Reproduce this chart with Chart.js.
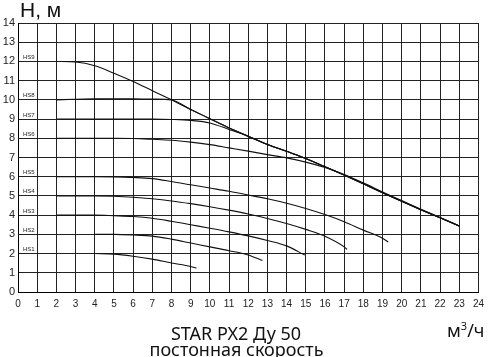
<!DOCTYPE html>
<html>
<head>
<meta charset="utf-8">
<script src="https://cdn.jsdelivr.net/npm/chart.js@4.4.1/dist/chart.umd.min.js"></script>
<style>
  html, body { margin: 0; padding: 0; background: #fff; }
  #wrap { position: relative; width: 490px; height: 357px; overflow: hidden; background: #fff; }
  canvas { position: absolute; left: 0; top: 0; }
  .t { position: absolute; white-space: nowrap; color: #111; }
  #yt { left: 20px; top: -1px; font: 21px/21px "Liberation Sans", Arial, sans-serif; }
  #t1 { left: 0; width: 472px; text-align: center; top: 324px; font: 18px/18px "Noto Sans", sans-serif; }
  #t2 { left: 0; width: 473px; text-align: center; top: 340px; font: 18px/18px "Noto Sans", sans-serif; }
  #xu { left: 447px; top: 321px; font: 18px/18px "Noto Sans", sans-serif; }
  #xu sup { font-size: 11px; vertical-align: 7px; line-height: 0; }
</style>
</head>
<body>
<div id="wrap">
  <canvas id="c" width="490" height="357"></canvas>
  <div class="t" id="yt">H, м</div>
  <div class="t" id="t1">STAR PX2 Ду 50</div>
  <div class="t" id="t2">постонная скорость</div>
  <div class="t" id="xu">м<sup>3</sup>/ч</div>
</div>
<script>
// Curve names
const curveNames = ['HS1', 'HS2', 'HS3', 'HS4', 'HS5', 'HS6', 'HS7', 'HS8', 'HS9'];

// Flow Q (m3/h) and head H (m) for each speed step
const qHS1 = [4, 5, 6, 7, 8, 9, 9.3];
const hHS1 = [2, 1.97, 1.86, 1.71, 1.51, 1.33, 1.24];

const qHS2 = [4, 5, 6, 7, 8, 9, 10, 11, 12, 12.74];
const hHS2 = [3, 3, 2.97, 2.91, 2.75, 2.55, 2.35, 2.15, 1.93, 1.64];

const qHS3 = [2, 3, 4, 5, 6, 7, 8, 9, 10, 11, 12, 13, 14, 14.95];
const hHS3 = [4, 4, 4, 3.97, 3.93, 3.84, 3.68, 3.5, 3.32, 3.13, 2.92, 2.68, 2.4, 1.92];

const qHS4 = [2, 3, 4, 5, 6, 7, 8, 9, 10, 11, 12, 13, 14, 15, 16, 17, 17.15];
const hHS4 = [5, 5, 5, 4.98, 4.93, 4.85, 4.74, 4.6, 4.44, 4.26, 4.06, 3.83, 3.57, 3.26, 2.9, 2.35, 2.22];

const qHS5 = [2, 3, 4, 5, 6, 7, 8, 9, 10, 11, 12, 13, 14, 15, 16, 17, 18, 19, 19.3];
const hHS5 = [6, 6, 6, 5.99, 5.96, 5.9, 5.75, 5.58, 5.41, 5.24, 5.05, 4.85, 4.62, 4.35, 4.03, 3.66, 3.22, 2.8, 2.6];

const qHS6 = [2, 3, 4, 5, 6, 7, 8, 9, 10, 11, 12, 13, 14, 15, 16, 17, 18, 19, 20, 21, 22, 23];
const hHS6 = [8, 8, 8, 8, 7.99, 7.95, 7.9, 7.8, 7.67, 7.5, 7.33, 7.15, 6.98, 6.76, 6.48, 6.12, 5.68, 5.21, 4.76, 4.31, 3.88, 3.44];

const qHS7 = [2, 3, 4, 5, 6, 7, 8, 9, 10, 11, 12, 13, 14, 15, 16, 17, 18, 19, 20, 21, 22, 23];
const hHS7 = [9, 9, 9, 9, 9, 9, 8.98, 8.93, 8.8, 8.46, 8.1, 7.68, 7.32, 6.95, 6.52, 6.09, 5.64, 5.17, 4.72, 4.28, 3.86, 3.43];

const qHS8 = [2, 3, 4, 5, 6, 7, 8, 9, 10, 11, 12, 13, 14, 15, 16, 17, 18, 19, 20, 21, 22, 23];
const hHS8 = [10, 10.03, 10.05, 10.06, 10.06, 10.04, 9.99, 9.5, 9.02, 8.54, 8.11, 7.68, 7.32, 6.95, 6.52, 6.09, 5.64, 5.17, 4.72, 4.28, 3.86, 3.43];

const qHS9 = [2, 3, 4, 5, 6, 7, 8, 9, 10, 11, 12, 13, 14, 15, 16, 17, 18, 19, 20, 21, 22, 23];
const hHS9 = [12, 11.97, 11.78, 11.39, 10.96, 10.48, 10.0, 9.5, 9.02, 8.54, 8.11, 7.68, 7.32, 6.95, 6.52, 6.09, 5.64, 5.17, 4.72, 4.28, 3.86, 3.43];

// Axis ranges
const xMin = 0, xMax = 24, xStep = 1;
const yMin = 0, yMax = 14, yStep = 1;

const qs = [qHS1, qHS2, qHS3, qHS4, qHS5, qHS6, qHS7, qHS8, qHS9];
const hs = [hHS1, hHS2, hHS3, hHS4, hHS5, hHS6, hHS7, hHS8, hHS9];

const datasets = curveNames.map((name, i) => ({
  label: name,
  data: qs[i].map((q, j) => ({ x: q, y: hs[i][j] })),
  borderColor: '#111',
  borderWidth: 1.1,
  pointRadius: 0,
  fill: false,
  cubicInterpolationMode: 'monotone'
}));

const curveLabels = {
  id: 'curveLabels',
  afterDatasetsDraw(chart) {
    const ctx = chart.ctx;
    const ys = chart.scales.y;
    const area = chart.chartArea;
    ctx.save();
    ctx.fillStyle = '#222';
    ctx.font = '6px "Liberation Sans", Arial, sans-serif';
    ctx.textAlign = 'left';
    ctx.textBaseline = 'alphabetic';
    chart.data.datasets.forEach(ds => {
      const y = ys.getPixelForValue(ds.data[0].y);
      ctx.fillText(ds.label, area.left + 5, y - 2.5);
    });
    ctx.restore();
  }
};

new Chart(document.getElementById('c'), {
  type: 'line',
  data: { datasets },
  options: {
    responsive: false,
    animation: false,
    devicePixelRatio: 1,
    layout: { padding: { top: 23, right: 11, left: 0, bottom: 0 } },
    plugins: { legend: { display: false }, tooltip: { enabled: false } },
    scales: {
      x: {
        type: 'linear', min: xMin, max: xMax,
        ticks: { stepSize: xStep, color: '#222', padding: 6, maxRotation: 0, autoSkip: false,
                 font: { family: '"Liberation Sans", Arial, sans-serif', size: 10 } },
        grid: { color: '#222', lineWidth: 1, drawTicks: false },
        border: { color: '#000', width: 1 },
        afterFit(s) { s.height = 65; }
      },
      y: {
        type: 'linear', min: yMin, max: yMax,
        ticks: { stepSize: yStep, color: '#222', padding: 3,
                 font: { family: '"Liberation Sans", Arial, sans-serif', size: 11 } },
        grid: { color: '#222', lineWidth: 1, drawTicks: false },
        border: { color: '#000', width: 1 },
        afterFit(s) { s.width = 18; }
      }
    }
  },
  plugins: [curveLabels]
});
</script>
</body>
</html>
